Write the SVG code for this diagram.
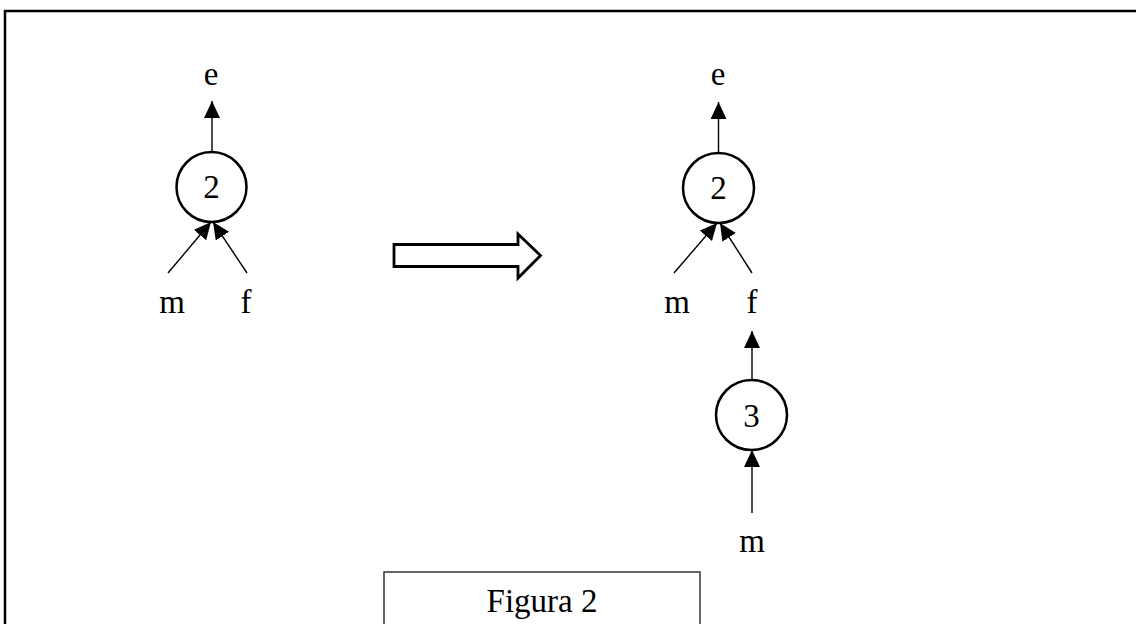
<svg xmlns="http://www.w3.org/2000/svg" width="1136" height="624" viewBox="0 0 1136 624">
<style>
text{font-family:"Liberation Serif","Times New Roman",serif;font-size:33px;fill:#000;text-anchor:middle}
.node ellipse{fill:#fff;stroke:#000;stroke-width:2.5}
.conn line{stroke:#000;stroke-width:1.4;marker-end:url(#ah)}
</style>
<defs>
<marker id="ah" markerUnits="userSpaceOnUse" markerWidth="20" markerHeight="18" refX="17" refY="8" orient="auto">
<path d="M0,0 L17,8 L0,16 z" fill="#000"/>
</marker>
</defs>
<rect width="1136" height="624" fill="#fff"/>
<rect x="5" y="11" width="1200" height="700" fill="none" stroke="#000" stroke-width="2.5"/>
<g id="connectors" class="conn">
<line x1="212" y1="152" x2="212" y2="101"/>
<line x1="168" y1="273" x2="211" y2="222"/>
<line x1="247" y1="273" x2="213" y2="222"/>
<line x1="718.5" y1="153" x2="718.5" y2="102"/>
<line x1="674" y1="273" x2="717" y2="223"/>
<line x1="752" y1="273" x2="720" y2="223"/>
<line x1="752" y1="380" x2="752" y2="331"/>
<line x1="752" y1="513" x2="752" y2="450"/>
</g>
<g id="node-left-2" class="node">
<ellipse cx="211.5" cy="187" rx="35" ry="35"/>
<text x="211.5" y="198">2</text>
</g>
<g id="label-left-e"><text x="211" y="85">e</text></g>
<g id="label-left-m"><text x="172" y="313">m</text></g>
<g id="label-left-f"><text x="246" y="313">f</text></g>
<g id="transform-arrow">
<path d="M394,244.5 L518,244.5 L518,234 L540.5,255.5 L518,278 L518,266.5 L394,266.5 Z" fill="#fff" stroke="#000" stroke-width="2.8" stroke-linejoin="miter"/>
</g>
<g id="node-right-2" class="node">
<ellipse cx="718.5" cy="188" rx="35.5" ry="35"/>
<text x="718.5" y="199">2</text>
</g>
<g id="label-right-e"><text x="718" y="85">e</text></g>
<g id="label-right-m"><text x="677" y="313">m</text></g>
<g id="label-right-f"><text x="752" y="313">f</text></g>
<g id="node-right-3" class="node">
<ellipse cx="751.5" cy="415" rx="35.5" ry="35"/>
<text x="751.5" y="427">3</text>
</g>
<g id="label-bottom-m"><text x="752" y="552">m</text></g>
<g id="caption">
<rect x="384" y="572" width="316" height="80" fill="#fff" stroke="#333" stroke-width="1.5"/>
<text x="542" y="612">Figura 2</text>
</g>
</svg>
